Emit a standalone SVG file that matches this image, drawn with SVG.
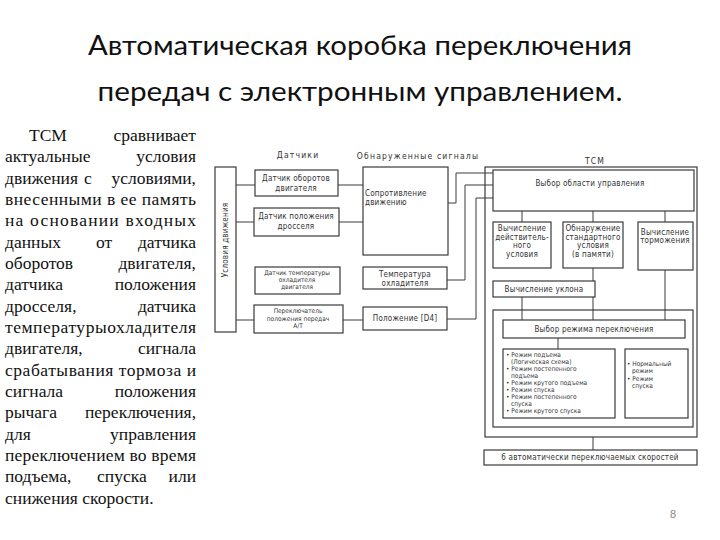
<svg xmlns="http://www.w3.org/2000/svg" width="720" height="540" viewBox="0 0 720 540">
<style>
.title{font-family:Lato,"Liberation Sans",sans-serif;font-size:27px;fill:#111}
.body{font-family:"Liberation Serif","Times New Roman","DejaVu Serif",serif;font-size:17.5px;fill:#111}
.d{font-family:"DejaVu Sans Condensed","Liberation Sans Narrow","Liberation Sans",sans-serif;font-stretch:condensed;font-size:8px;letter-spacing:0.2px;fill:#333}
.h{font-size:8.5px;letter-spacing:1.2px}
.s{font-size:6.5px;letter-spacing:0}
.c{text-anchor:middle}
.box{fill:#fff;stroke:#3a3a3a;stroke-width:1.2}
.ln{fill:none;stroke:#3a3a3a;stroke-width:1}
</style>
<rect width="720" height="540" fill="#fff"/>
<text class="title c" x="360" y="55" textLength="544" lengthAdjust="spacingAndGlyphs">Автоматическая коробка переключения</text>
<text class="title c" x="360" y="101" textLength="525" lengthAdjust="spacingAndGlyphs">передач с электронным управлением.</text>

<g id="body-text">
<text class="body" x="29" y="141">ТСМ</text><text class="body" x="196" y="141" text-anchor="end">сравнивает</text>
<text class="body" x="5" y="162">актуальные</text><text class="body" x="196" y="162" text-anchor="end">условия</text>
<text class="body" x="5" y="184">движения</text><text class="body" x="84" y="184">с</text><text class="body" x="196" y="184" text-anchor="end">условиями,</text>
<text class="body" x="5" y="205" textLength="191" lengthAdjust="spacing">внесенными в ее память</text>
<text class="body" x="5" y="226" textLength="191" lengthAdjust="spacing">на основании входных</text>
<text class="body" x="5" y="248">данных</text><text class="body" x="96" y="248">от</text><text class="body" x="196" y="248" text-anchor="end">датчика</text>
<text class="body" x="5" y="269">оборотов</text><text class="body" x="196" y="269" text-anchor="end">двигателя,</text>
<text class="body" x="5" y="290">датчика</text><text class="body" x="196" y="290" text-anchor="end">положения</text>
<text class="body" x="5" y="312">дросселя,</text><text class="body" x="196" y="312" text-anchor="end">датчика</text>
<text class="body" x="5" y="333" textLength="191" lengthAdjust="spacing">температурыохладителя</text>
<text class="body" x="5" y="354">двигателя,</text><text class="body" x="196" y="354" text-anchor="end">сигнала</text>
<text class="body" x="5" y="376" textLength="191" lengthAdjust="spacing">срабатывания тормоза и</text>
<text class="body" x="5" y="397">сигнала</text><text class="body" x="196" y="397" text-anchor="end">положения</text>
<text class="body" x="5" y="418">рычага</text><text class="body" x="196" y="418" text-anchor="end">переключения,</text>
<text class="body" x="5" y="440">для</text><text class="body" x="196" y="440" text-anchor="end">управления</text>
<text class="body" x="5" y="461" textLength="191" lengthAdjust="spacing">переключением во время</text>
<text class="body" x="5" y="482">подъема,</text><text class="body" x="97" y="482">спуска</text><text class="body" x="196" y="482" text-anchor="end">или</text>
<text class="body" x="5" y="504">снижения скорости.</text>
</g>

<g id="headers">
<text class="d h c" x="298" y="158">Датчики</text>
<text class="d h c" x="418" y="159">Обнаруженные сигналы</text>
<text class="d h c" x="595" y="164">ТСМ</text>
</g>

<g id="connectors">
<path class="ln" d="M236 185H255M236 222H254M236 320H254"/>
<path class="ln" d="M338 185H363M339 222H363"/>
<path class="ln" d="M343 320H363"/>
<path class="ln" d="M448 203H456V173H493"/>
<path class="ln" d="M447 280H465V185H493"/>
<path class="ln" d="M447 319H476V198H493"/>
<path class="ln" d="M522 211V222M593 211V222M665 211V222"/>
<path class="ln" d="M593 268V281M522 297V320M593 297V320M665 270V320"/>
<path class="ln" d="M558 338V349"/>
<path class="ln" d="M593 437V450"/>
</g>

<g id="cond">
<rect class="box" x="215" y="167" width="21" height="165"/>
<text class="d c" transform="translate(228,240) rotate(-90)">Условия движения</text>
</g>
<g id="s1"><rect class="box" x="255" y="170" width="83" height="26"/>
<text class="d c" x="296" y="181">Датчик оборотов</text><text class="d c" x="296" y="191">двигателя</text></g>
<g id="s2"><rect class="box" x="254" y="208" width="85" height="28"/>
<text class="d c" x="296" y="219">Датчик положения</text><text class="d c" x="296" y="229">дросселя</text></g>
<g id="s3"><rect class="box" x="255" y="267" width="85" height="27"/>
<text class="d c s" x="297" y="275">Датчик температуры</text><text class="d c s" x="297" y="282">охладителя</text><text class="d c s" x="297" y="289">двигателя</text></g>
<g id="s4"><rect class="box" x="254" y="305" width="89" height="28"/>
<text class="d c s" x="298" y="313">Переключатель</text><text class="d c s" x="298" y="320.5">положения передач</text><text class="d c s" x="298" y="328">А/Т</text></g>

<g id="res"><rect class="box" x="363" y="167" width="85" height="88"/>
<text class="d" x="365" y="196">Сопротивление</text><text class="d" x="365" y="205">движению</text></g>
<g id="temp"><rect class="box" x="363" y="267" width="84" height="22"/>
<text class="d c" x="405" y="277">Температура</text><text class="d c" x="405" y="286">охладителя</text></g>
<g id="pos"><rect class="box" x="363" y="307" width="84" height="23"/>
<text class="d c" x="405" y="321">Положение [D4]</text></g>

<g id="tcm"><rect class="ln" x="485" y="167" width="212" height="270" style="stroke-width:1.2"/></g>
<g id="area"><rect class="box" x="493" y="170" width="201" height="41"/>
<text class="d c" x="590" y="186">Выбор области управления</text></g>
<g id="calc1"><rect class="box" x="493" y="222" width="58" height="46"/>
<text class="d c" x="522" y="231">Вычисление</text><text class="d c" x="522" y="240">действитель-</text><text class="d c" x="522" y="248">ного</text><text class="d c" x="522" y="257">условия</text></g>
<g id="calc2"><rect class="box" x="563" y="222" width="60" height="46"/>
<text class="d c" x="593" y="231">Обнаружение</text><text class="d c" x="593" y="240">стандартного</text><text class="d c" x="593" y="248">условия</text><text class="d c" x="593" y="257">(в памяти)</text></g>
<g id="calc3"><rect class="box" x="638" y="222" width="55" height="48"/>
<text class="d c" x="665" y="235">Вычисление</text><text class="d c" x="665" y="243">торможения</text></g>
<g id="slope"><rect class="box" x="493" y="281" width="102" height="16"/>
<text class="d c" x="544" y="292">Вычисление уклона</text></g>
<g id="modeframe"><rect class="ln" x="493" y="310" width="200" height="117" style="stroke-width:1.2"/></g>
<g id="mode"><rect class="box" x="503" y="320" width="182" height="18"/>
<text class="d c" x="594" y="332">Выбор режима переключения</text></g>
<g id="list1"><rect class="box" x="503" y="349" width="112" height="69"/>
<g class="d s">
<text x="506" y="357">• Режим подъема</text>
<text x="511" y="364">(Логическая схема)</text>
<text x="506" y="371">• Режим постепенного</text>
<text x="511" y="378">подъема</text>
<text x="506" y="385">• Режим крутого подъема</text>
<text x="506" y="392">• Режим спуска</text>
<text x="506" y="399">• Режим постепенного</text>
<text x="511" y="406">спуска</text>
<text x="506" y="413">• Режим крутого спуска</text>
</g></g>
<g id="list2"><rect class="box" x="625" y="349" width="63" height="69"/>
<g class="d s">
<text x="627" y="366">• Нормальный</text>
<text x="632" y="373">режим</text>
<text x="627" y="381">• Режим</text>
<text x="632" y="388">спуска</text>
</g></g>
<g id="speeds"><rect class="box" x="484" y="450" width="213" height="15"/>
<text class="d c" x="590" y="460">6 автоматически переключаемых скоростей</text></g>
<text x="673" y="518" style="font-family:'Liberation Sans',sans-serif;font-size:11px;fill:#888" text-anchor="middle">8</text>
</svg>
